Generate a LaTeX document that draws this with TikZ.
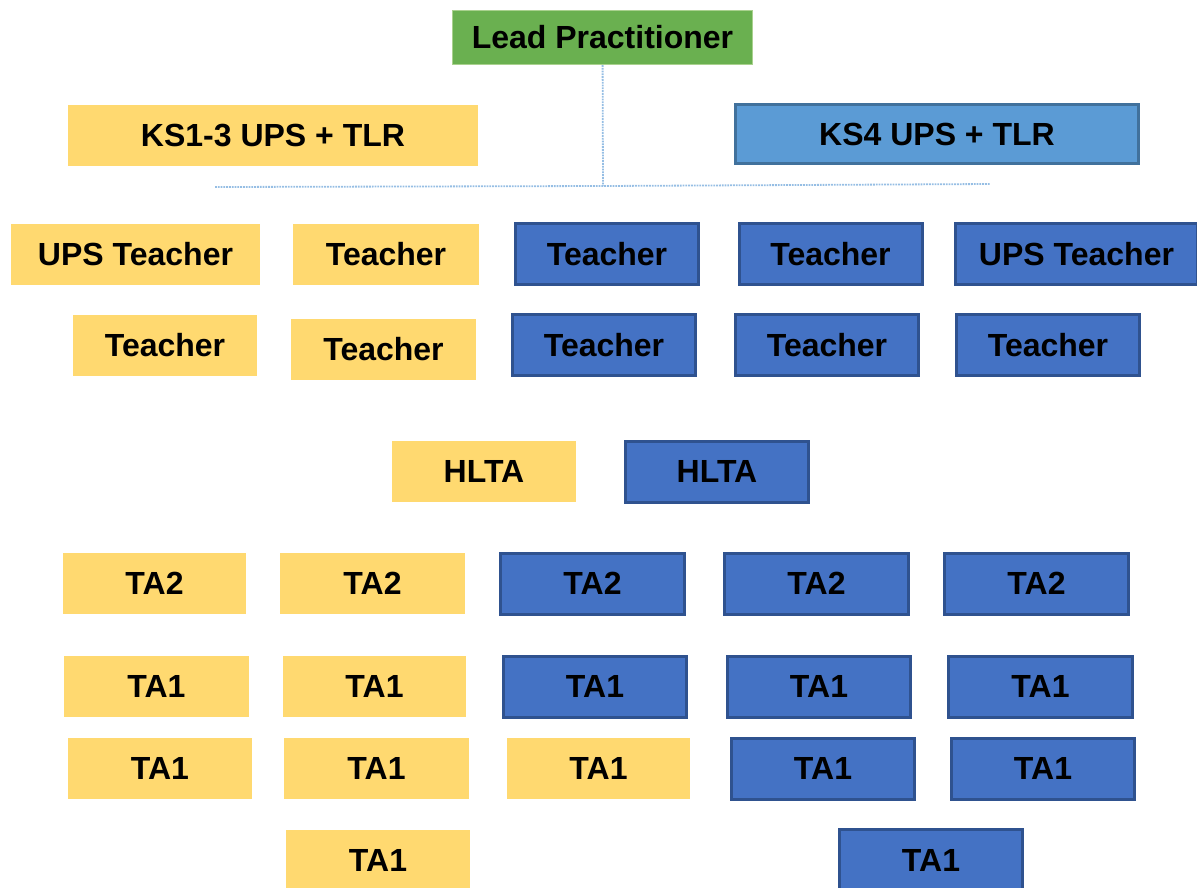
\documentclass[tikz,border=0pt]{standalone}
\usepackage{fontspec}
\setmainfont{Liberation Sans}
\usepackage{xcolor}

\definecolor{leadgreen}{RGB}{106,176,80}
\definecolor{leadedge}{RGB}{169,209,142}
\definecolor{lowyellow}{RGB}{255,217,112}
\definecolor{ksblue}{RGB}{91,155,213}
\definecolor{ksedge}{RGB}{65,113,156}
\definecolor{upblue}{RGB}{68,114,196}
\definecolor{upedge}{RGB}{47,82,143}
\definecolor{railblue}{RGB}{150,190,228}

\begin{document}
\begin{tikzpicture}
[
  x=1pt,
  y=-1pt,
  every node/.style={font=\bfseries\fontsize{32}{37}\selectfont,inner sep=0pt},
  lead/.style={fill=leadgreen,draw=leadedge,line width=1pt,minimum width=300pt,minimum height=54pt},
  low/.style={fill=lowyellow,minimum width=185pt,minimum height=61pt},
  ksf/.style={fill=ksblue,draw=ksedge,line width=3pt,minimum width=403pt,minimum height=59pt},
  up/.style={fill=upblue,draw=upedge,line width=3pt,minimum width=183pt,minimum height=61pt},
  rail/.style={railblue,densely dotted,line width=1.8pt}
]

\useasboundingbox (0,0) rectangle (1197,887);
\clip (0,0) rectangle (1197,887);

\node[lead] (lp) at(602.5,37.5) {Lead Practitioner};

\node[low,minimum width=410pt] (ksA) at(273,135.5) {KS1-3 UPS + TLR};
\node[ksf] (ksB) at(937,134) {KS4 UPS + TLR};

\coordinate (join) at(603,186);
\coordinate (railL) at(215,187);
\coordinate (railR) at(990,184);
\draw[rail] (lp) -- (join);
\draw[rail] (railL) -- (join) -- (railR);


\node[low,minimum width=249pt] (yT1) at(135.5,254.5) {UPS Teacher};
\node[low,minimum width=186pt] (yT2) at(386,254.5) {Teacher};
\node[low,minimum width=184pt] (yT3) at(165,345.5) {Teacher};
\node[low] (yT4) at(383.5,349) {Teacher};

\node[up] (bT1) at(607,254) {Teacher};
\node[up] (bT2) at(830.5,254) {Teacher};
\node[up,minimum width=242pt] (bT3) at(1076.5,254) {UPS Teacher};
\node[up] (bT4) at(604,345) {Teacher};
\node[up] (bT5) at(827,345) {Teacher};
\node[up] (bT6) at(1048,345) {Teacher};


\node[low,minimum width=184pt] (yH) at(484,471.5) {HLTA};
\node[up] (bH) at(717,471.5) {HLTA};


\node[low,minimum width=183pt] (yA1) at(154.5,583.5) {TA2};
\node[low] (yA2) at(372.5,583.5) {TA2};
\node[up,minimum width=184pt] (bA1) at(592.5,583.5) {TA2};
\node[up,minimum width=184pt] (bA2) at(816.5,583.5) {TA2};
\node[up,minimum width=184pt] (bA3) at(1036.5,583.5) {TA2};

\node[low] (yB1) at(156.5,686.5) {TA1};
\node[low,minimum width=183pt] (yB2) at(374.5,686.5) {TA1};
\node[up] (bB1) at(595,686.5) {TA1};
\node[up] (bB2) at(819,686.5) {TA1};
\node[up,minimum width=184pt] (bB3) at(1040.5,686.5) {TA1};

\node[low,minimum width=184pt] (yC1) at(160,768.5) {TA1};
\node[low] (yC2) at(376.5,768.5) {TA1};
\node[low,minimum width=183pt] (yC3) at(598.5,768.5) {TA1};
\node[up] (bC1) at(823,768.5) {TA1};
\node[up] (bC2) at(1043,768.5) {TA1};

\node[low,minimum width=184pt] (yD1) at(378,860.5) {TA1};
\node[up] (bD1) at(931,860) {TA1};
\end{tikzpicture}
\end{document}
